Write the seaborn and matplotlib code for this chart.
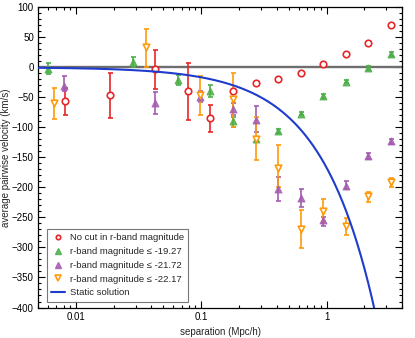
import numpy as np
import pandas as pd
import matplotlib
matplotlib.use("Agg")
import matplotlib.pyplot as plt
from matplotlib.lines import Line2D
from matplotlib.ticker import MultipleLocator, LogLocator, FixedLocator, FixedFormatter, NullFormatter
import seaborn as sns

# ---------------- data ----------------
red_x = [0.00823, 0.0187, 0.0431, 0.0784, 0.118, 0.1795, 0.2717, 0.411, 0.622, 0.941, 1.423, 2.154, 3.263]
red_y = [-57, -47, -3, -40, -85, -39, -26, -19, -9, 6, 22, 41, 70]
red_lo = [-79, -85, -36, -87, -108, -42, -28, -21, -11, 4, 20, 39, 68]
red_hi = [-35, -9, 29, 7, -62, -36, -24, -17, -7, 8, 24, 43, 72]

green_x = [0.00596, 0.0285, 0.0648, 0.118, 0.1795, 0.2717, 0.411, 0.622, 0.941, 1.423, 2.154, 3.263]
green_y = [-2.5, 9, -21, -39, -89, -120, -106, -77, -48, -24, -1, 22]
green_lo = [-11, 1, -29, -49, -99, -123, -109, -80, -51, -27, -4, 19]
green_hi = [7, 17, -13, -29, -82, -117, -103, -74, -45, -21, 2, 25]

purple_x = [0.00799, 0.0431, 0.0982, 0.1795, 0.2717, 0.411, 0.622, 0.941, 1.423, 2.154, 3.263]
purple_y = [-31, -59, -50, -69, -87, -203, -217, -254, -197, -148, -123]
purple_lo = [-39, -78, -58, -79, -108, -222, -232, -264, -203, -153, -127]
purple_hi = [-15, -42, -40, -59, -65, -182, -203, -249, -190, -143, -119]

orange_x = [0.00673, 0.0361, 0.0982, 0.1795, 0.2717, 0.411, 0.622, 0.941, 1.423, 2.154, 3.263]
orange_y = [-60, 33, -47, -53, -119, -168, -269, -239, -265, -215, -191]
orange_lo = [-86, 1, -79, -99, -155, -199, -301, -257, -279, -225, -199]
orange_hi = [-35, 64, -15, -9, -83, -129, -237, -219, -251, -207, -185]

# static solution: v = slope * r (slope)
static_slope = -167.0

labels = ["No cut in r-band magnitude",
          "r-band magnitude \u2264 -19.27",
          "r-band magnitude \u2264 -21.72",
          "r-band magnitude \u2264 -22.17",
          "Static solution"]

x_ticks = [0.01, 0.1, 1]
x_ticklabels = ["0.01", "0.1", "1"]

# ---------------- styling ----------------
sns.set_theme(style="ticks")
plt.rcParams["font.family"] = ["Liberation Sans", "DejaVu Sans"]
plt.rcParams["font.size"] = 7
plt.rcParams["axes.unicode_minus"] = True

RED = "#e8262a"
GREEN = "#4daf4a"
PURPLE = "#a45cb0"
ORANGE = "#ff9a0a"
BLUE = "#1f3ccc"

FS = 7.0

fig = plt.figure(figsize=(4.15, 3.38), dpi=100)
ax = fig.add_axes([0.0916, 0.0902, 0.8771, 0.8885])

ax.axhline(0, color="#6e6e6e", lw=1.7, zorder=1)

series = [
    (red_x, red_y, red_lo, red_hi, RED, "o", "none", labels[0]),
    (green_x, green_y, green_lo, green_hi, GREEN, "^", GREEN, labels[1]),
    (purple_x, purple_y, purple_lo, purple_hi, PURPLE, "^", PURPLE, labels[2]),
    (orange_x, orange_y, orange_lo, orange_hi, ORANGE, "v", "none", labels[3]),
]

for xs, ys, lo, hi, col, mk, fc, lab in series:
    xs = np.array(xs); ys = np.array(ys)
    yerr = np.vstack([ys - np.array(lo), np.array(hi) - ys])
    ax.errorbar(xs, ys, yerr=yerr, fmt="none", ecolor=col, elinewidth=1.2,
                capsize=1.8, capthick=1.2, zorder=3)
    df = pd.DataFrame({"x": xs, "y": ys})
    if fc == "none":
        sns.scatterplot(data=df, x="x", y="y", ax=ax, marker=mk, s=22,
                        facecolors="white", edgecolor=col, linewidth=1.2, zorder=4)
    else:
        sns.scatterplot(data=df, x="x", y="y", ax=ax, marker=mk, s=24,
                        color=col, edgecolor=col, linewidth=0.8, alpha=0.85, zorder=4)

r = np.geomspace(0.005, 4, 400)
sns.lineplot(x=r, y=static_slope * r, ax=ax, color=BLUE, lw=1.5, zorder=5)

ax.set_xscale("log")
ax.set_xlim(0.005, 4)
ax.set_ylim(-400, 100)

ax.xaxis.set_major_locator(FixedLocator(x_ticks))
ax.xaxis.set_major_formatter(FixedFormatter(x_ticklabels))
ax.xaxis.set_minor_locator(LogLocator(base=10, subs=np.arange(2, 10)))
ax.xaxis.set_minor_formatter(NullFormatter())
ax.yaxis.set_major_locator(MultipleLocator(50))
ax.yaxis.set_minor_locator(MultipleLocator(10))

ax.tick_params(which="both", direction="in", top=True, right=True,
               labelsize=FS, colors="black", width=0.8, pad=3)
ax.tick_params(which="major", length=5)
ax.tick_params(which="minor", length=2.5)
for s in ax.spines.values():
    s.set_color("black")
    s.set_linewidth(0.9)

ax.set_xlabel("separation (Mpc/h)", fontsize=FS, labelpad=4)
ax.set_ylabel("average pairwise velocity (km/s)", fontsize=FS, labelpad=1)

handles = [
    Line2D([], [], ls="none", marker="o", mfc="white", mec=RED, mew=1.2, ms=3.2),
    Line2D([], [], ls="none", marker="^", mfc=GREEN, mec=GREEN, ms=3.8, alpha=0.85),
    Line2D([], [], ls="none", marker="^", mfc=PURPLE, mec=PURPLE, ms=3.8, alpha=0.85),
    Line2D([], [], ls="none", marker="v", mfc="white", mec=ORANGE, mew=1.2, ms=3.8),
    Line2D([], [], color=BLUE, lw=1.5),
]
leg = ax.legend(handles, labels, loc="lower left", bbox_to_anchor=(0.024, 0.02),
                borderaxespad=0, fontsize=6.8, frameon=True, fancybox=False,
                edgecolor="#555555", handlelength=1.5, handletextpad=0.5,
                borderpad=0.45, labelspacing=0.5)
leg.get_frame().set_linewidth(0.8)

fig.savefig("out.png", dpi=100)
